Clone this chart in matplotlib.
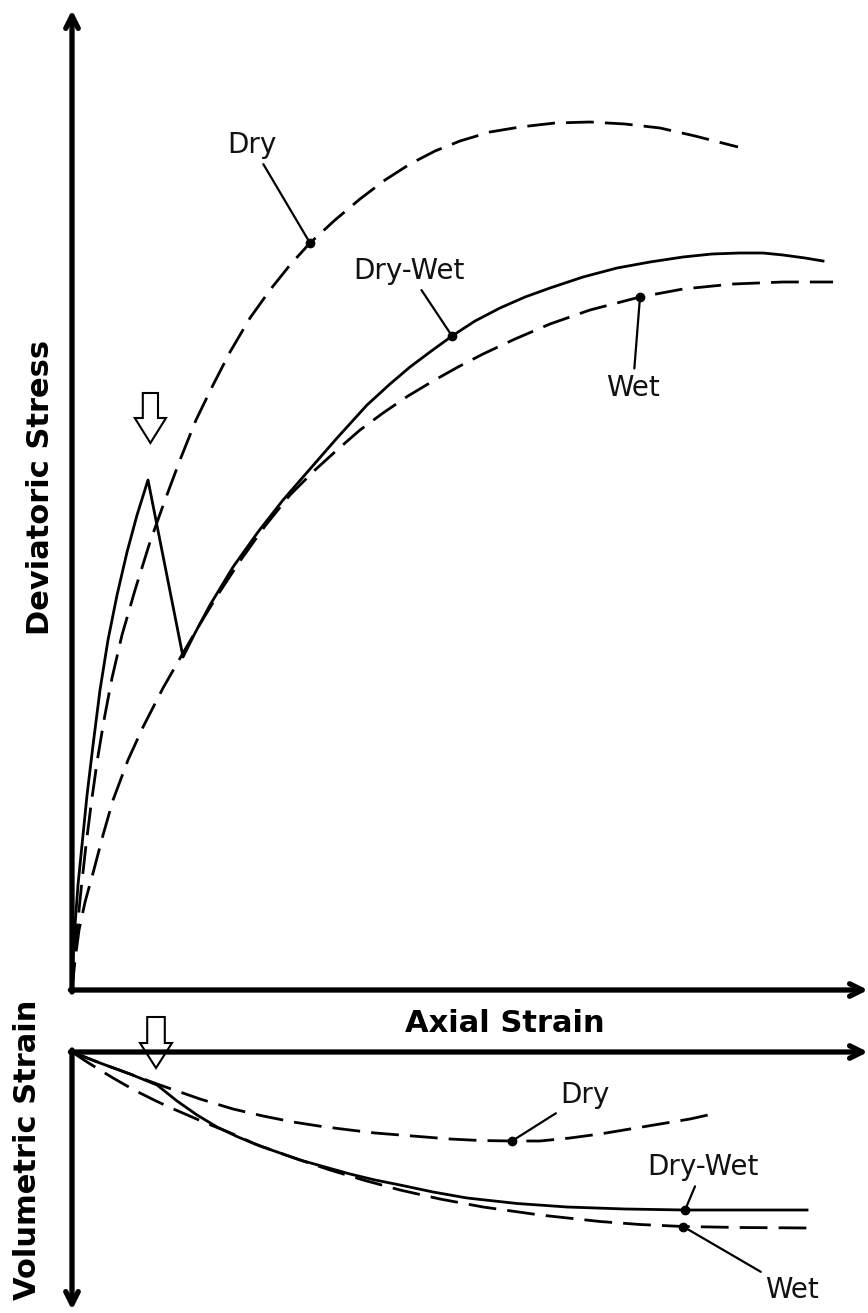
import matplotlib
matplotlib.use('Agg')
import matplotlib.pyplot as plt
from matplotlib.patches import FancyArrow

# top panel: axial strain vs deviatoric stress (arbitrary units, schematic)
dry_x = [0, 0.025, 0.063, 0.113, 0.175, 0.238, 0.313, 0.4, 0.5, 0.625, 0.788, 0.975, 1.163, 1.35,
         1.55, 1.763, 1.975, 2.225, 2.475, 2.725, 2.975, 3.288, 3.6, 3.913, 4.225, 4.538, 4.85,
         5.225, 5.6, 6.038, 6.475, 6.913, 7.35, 7.788, 8.325]
dry_q = [0, 0.28, 0.60, 1.00, 1.45, 1.85, 2.28, 2.70, 3.12, 3.55, 4.00, 4.48, 4.90, 5.30,
         5.70, 6.05, 6.38, 6.72, 7.00, 7.25, 7.47, 7.70, 7.91, 8.10, 8.26, 8.39, 8.49,
         8.58, 8.63, 8.67, 8.68, 8.66, 8.62, 8.54, 8.43]

wet_x = [0, 0.038, 0.088, 0.163, 0.263, 0.388, 0.513, 0.7, 0.888, 1.138, 1.388, 1.6, 1.813, 2.1,
         2.413, 2.725, 3.038, 3.313, 3.6, 3.888, 4.2, 4.513, 4.825, 5.138, 5.538, 5.975, 6.475,
         7.1, 7.638, 8.263, 8.888, 9.513]
wet_q = [0, 0.30, 0.60, 0.88, 1.17, 1.55, 1.90, 2.30, 2.63, 3.02, 3.37, 3.66, 3.94, 4.29,
         4.64, 4.95, 5.20, 5.40, 5.60, 5.77, 5.94, 6.09, 6.23, 6.36, 6.51, 6.66, 6.80,
         6.93, 7.01, 7.06, 7.08, 7.08]

drywet_x = [0, 0.013, 0.038, 0.075, 0.125, 0.188, 0.263, 0.35, 0.45, 0.563, 0.688, 0.813, 0.95,
            1.388, 1.538, 1.725, 2.013, 2.325, 2.638, 2.975, 3.313, 3.688, 3.975, 4.225, 4.475,
            4.75, 5.038, 5.35, 5.663, 5.975, 6.388, 6.813, 7.225, 7.638, 8.0, 8.35, 8.638,
            8.888, 9.163, 9.388]
drywet_q = [0, 0.30, 0.65, 1.05, 1.45, 1.95, 2.45, 3.00, 3.50, 3.95, 4.38, 4.75, 5.10,
            3.33, 3.57, 3.85, 4.23, 4.58, 4.90, 5.21, 5.52, 5.85, 6.06, 6.23, 6.38,
            6.54, 6.69, 6.82, 6.93, 7.02, 7.13, 7.22, 7.28, 7.33, 7.36, 7.37, 7.37,
            7.35, 7.32, 7.29]

# bottom panel: axial strain vs volumetric strain (compression plotted downwards)
dry_vx = [0, 0.35, 0.725, 1.063, 1.35, 1.6, 2.013, 2.388, 2.763, 3.125, 3.475, 3.788, 4.1,
          4.413, 4.725, 5.1, 5.5, 5.85, 6.225, 6.6, 6.975, 7.35, 7.725, 8.063]
dry_ev = [0, 0.11, 0.22, 0.32, 0.40, 0.47, 0.57, 0.64, 0.70, 0.745, 0.78, 0.81, 0.83,
          0.85, 0.87, 0.885, 0.89, 0.89, 0.86, 0.82, 0.77, 0.72, 0.67, 0.61]

drywet_vx = [0, 0.35, 0.725, 1.063, 1.188, 1.313, 1.563, 1.813, 2.075, 2.35, 2.6, 2.85, 3.163,
             3.475, 3.788, 4.1, 4.513, 4.938, 5.563, 6.188, 6.913, 7.663, 9.188]
drywet_ev = [0, 0.11, 0.22, 0.33, 0.41, 0.49, 0.63, 0.75, 0.85, 0.94, 1.01, 1.08, 1.15,
             1.22, 1.28, 1.33, 1.40, 1.46, 1.515, 1.55, 1.57, 1.58, 1.58]

wet_vx = [0, 0.188, 0.35, 0.513, 0.688, 0.85, 1.038, 1.225, 1.413, 1.6, 1.813, 2.013, 2.288,
          2.563, 2.888, 3.225, 3.663, 4.1, 4.6, 5.138, 5.85, 6.6, 7.1, 7.638, 8.35, 9.225]
wet_ev = [0, 0.10, 0.18, 0.26, 0.34, 0.41, 0.485, 0.555, 0.62, 0.685, 0.755, 0.82, 0.92,
          1.00, 1.09, 1.18, 1.285, 1.38, 1.47, 1.55, 1.63, 1.695, 1.725, 1.745, 1.755, 1.76]

# strain where wetting is applied (hollow arrows)
wetting_top = 0.98
wetting_bot = 1.05

W, H = 868, 1313
fig = plt.figure(figsize=(W / 100, H / 100), dpi=100)
fig.patch.set_facecolor('white')


def px_axes(x0, y0, x1, y1):
    return fig.add_axes([x0 / W, 1 - y1 / H, (x1 - x0) / W, (y1 - y0) / H])


dash = (0, (10, 4))
lw = 2.0

# ---------- top panel ----------
ax = px_axes(72, 10, 868, 990)
ax.set_xlim(0, 9.95)
ax.set_ylim(0, 9.8)
ax.axis('off')

ax.plot(dry_x, dry_q, color='black', lw=lw, ls=dash, clip_on=False)
ax.plot(wet_x, wet_q, color='black', lw=lw, ls=dash, clip_on=False)
ax.plot(drywet_x, drywet_q, color='black', lw=lw, clip_on=False)

ax_kw = dict(arrowstyle='->,head_length=0.9,head_width=0.45', lw=3.8, color='black',
             shrinkA=0, shrinkB=0)
ax.annotate('', xy=(0, 9.8), xytext=(0, -0.02), arrowprops=ax_kw, annotation_clip=False)
ax.annotate('', xy=(9.95, 0), xytext=(-0.02, 0), arrowprops=ax_kw, annotation_clip=False)

ax.add_patch(FancyArrow(wetting_top, 5.97, 0, -0.5, width=0.19, head_width=0.39,
                        head_length=0.25, length_includes_head=True,
                        facecolor='white', edgecolor='black', lw=1.5))

lab_kw = dict(fontsize=20, ha='center', va='center', color='#111111',
              arrowprops=dict(arrowstyle='-', lw=1.6, color='black', shrinkA=2, shrinkB=0))
for name, xs, ys, i, pos in [('Dry', dry_x, dry_q, 20, (2.25, 8.45)),
                              ('Dry-Wet', drywet_x, drywet_q, 25, (4.21, 7.19)),
                              ('Wet', wet_x, wet_q, 27, (7.01, 6.02))]:
    ax.plot(xs[i], ys[i], 'o', color='black', ms=6)
    ax.annotate(name, xy=(xs[i], ys[i]), xytext=pos, **lab_kw)

# ---------- bottom panel ----------
bx = px_axes(72, 1052, 868, 1310)
bx.set_xlim(0, 9.95)
bx.set_ylim(2.58, 0)
bx.axis('off')

bx.plot(dry_vx, dry_ev, color='black', lw=lw, ls=dash, clip_on=False)
bx.plot(wet_vx, wet_ev, color='black', lw=lw, ls=dash, clip_on=False)
bx.plot(drywet_vx, drywet_ev, color='black', lw=lw, clip_on=False)

bx.annotate('', xy=(9.95, 0), xytext=(-0.02, 0), arrowprops=ax_kw, annotation_clip=False)
bx.annotate('', xy=(0, 2.58), xytext=(0, -0.02), arrowprops=ax_kw, annotation_clip=False)

bx.add_patch(FancyArrow(wetting_bot, -0.35, 0, 0.51, width=0.22, head_width=0.40,
                        head_length=0.25, length_includes_head=True,
                        facecolor='white', edgecolor='black', lw=1.5, clip_on=False))

for name, xs, ys, i, pos in [('Dry', dry_vx, dry_ev, 16, (6.41, 0.43)),
                              ('Dry-Wet', drywet_vx, drywet_ev, 21, (7.89, 1.15)),
                              ('Wet', wet_vx, wet_ev, 23, (9.0, 2.38))]:
    bx.plot(xs[i], ys[i], 'o', color='black', ms=6, clip_on=False)
    bx.annotate(name, xy=(xs[i], ys[i]), xytext=pos, annotation_clip=False, **lab_kw)

# axis titles
fig.text(41 / W, 1 - 487 / H, 'Deviatoric Stress', rotation=90, fontsize=22,
         fontweight='bold', ha='center', va='center')
fig.text(28 / W, 1 - 1150 / H, 'Volumetric Strain', rotation=90, fontsize=22,
         fontweight='bold', ha='center', va='center')
fig.text(505 / W, 1 - 1023 / H, 'Axial Strain', fontsize=22,
         fontweight='bold', ha='center', va='center')

fig.savefig('out.png', dpi=100, facecolor='white')
